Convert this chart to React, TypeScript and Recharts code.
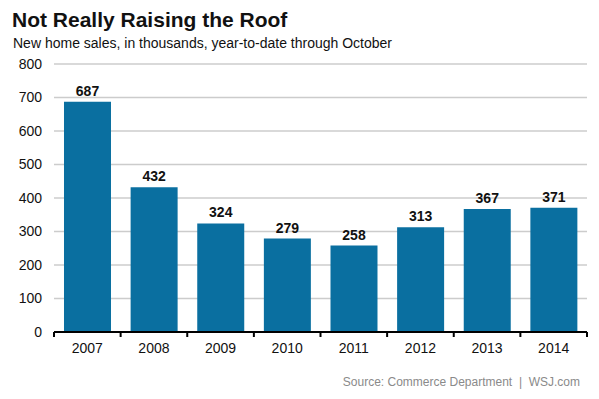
import { Bar, BarChart, CartesianGrid, LabelList, XAxis, YAxis } from "recharts";

const YEARS = ["2007", "2008", "2009", "2010", "2011", "2012", "2013", "2014"];
const SALES = [687, 432, 324, 279, 258, 313, 367, 371];
const Y_TICKS = [0, 100, 200, 300, 400, 500, 600, 700, 800];

const data = YEARS.map((year, i) => ({ year, sales: SALES[i] }));

const FONT = "'Liberation Sans', Arial, Helvetica, sans-serif";
const BAR_COLOR = "#0a6fa0";
const BAND = 533 / YEARS.length;

function YearTick(props: any) {
  const { x, y, payload, index } = props;
  return (
    <g>
      {index === 0 && <line x1={x - BAND / 2} x2={x - BAND / 2} y1={y - 8} y2={y - 3} stroke="#000" strokeWidth={2} />}
      <line x1={x + BAND / 2} x2={x + BAND / 2} y1={y - 8} y2={y - 3} stroke="#000" strokeWidth={2} />
      <text x={x} y={y + 13} textAnchor="middle" fontSize={14} fill="#111" fontFamily={FONT}>
        {payload.value}
      </text>
    </g>
  );
}

export default function App() {
  return (
    <div style={{ position: "absolute", left: 0, top: 0, width: 599, height: 399, background: "#fff", fontFamily: FONT }}>
      <div style={{ position: "absolute", left: 12, top: 8, fontSize: 21, fontWeight: "bold", color: "#111", whiteSpace: "nowrap" }}>
        Not Really Raising the Roof
      </div>
      <div style={{ position: "absolute", left: 13, top: 35, fontSize: 14, color: "#111", whiteSpace: "nowrap" }}>
        New home sales, in thousands, year-to-date through October
      </div>
      <BarChart
        width={599}
        height={399}
        data={data}
        margin={{ top: 64, right: 12, bottom: 37, left: 10 }}
        barCategoryGap="15%"
      >
        <CartesianGrid vertical={false} stroke="#cccccc" strokeWidth={1.5} />
        <XAxis
          dataKey="year"
          tick={<YearTick />}
          tickLine={false}
          axisLine={{ stroke: "#000", strokeWidth: 2 }}
          interval={0}
        />
        <YAxis
          domain={[0, 800]}
          ticks={Y_TICKS}
          width={44}
          axisLine={false}
          tickLine={false}
          tickMargin={6}
          tick={{ fontSize: 14, fill: "#111", fontFamily: FONT }}
        />
        <Bar dataKey="sales" fill={BAR_COLOR} isAnimationActive={false}>
          <LabelList
            dataKey="sales"
            position="top"
            offset={6}
            style={{ fontSize: 14, fontWeight: "bold", fill: "#111", fontFamily: FONT }}
          />
        </Bar>
      </BarChart>
      <div style={{ position: "absolute", right: 19, top: 375, fontSize: 12, color: "#8a8a8a", whiteSpace: "nowrap" }}>
        Source: Commerce Department&nbsp;&nbsp;|&nbsp;&nbsp;WSJ.com
      </div>
    </div>
  );
}
